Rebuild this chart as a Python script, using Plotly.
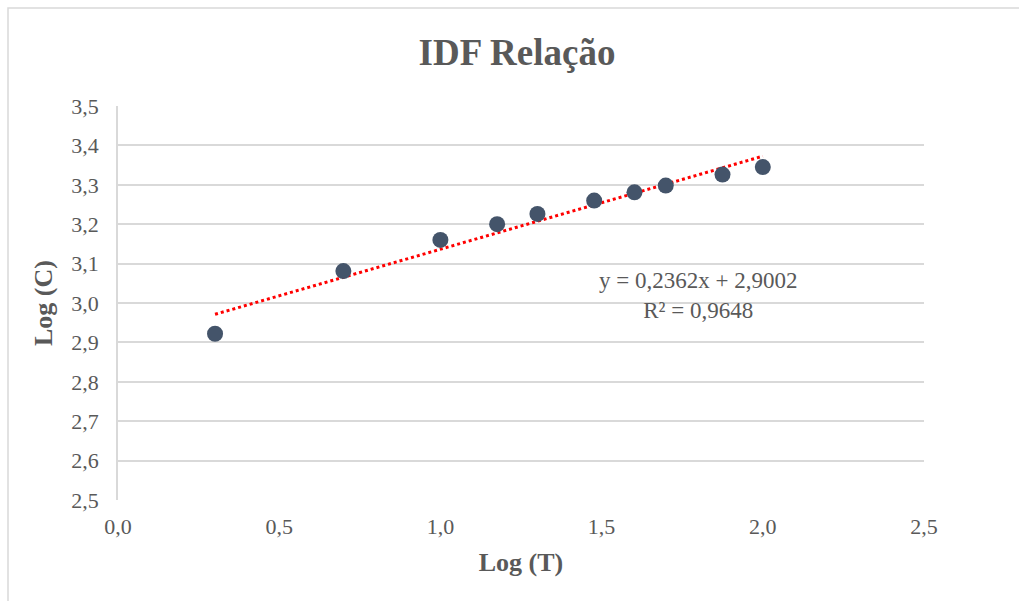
import numpy as np
import plotly.graph_objects as go

# Return periods (years) and their log10 values
log_t = [0.301, 0.699, 1.000, 1.176, 1.301, 1.477, 1.602, 1.699, 1.875, 2.000]
log_c = [2.922, 3.081, 3.160, 3.200, 3.226, 3.260, 3.281, 3.298, 3.326, 3.345]

# Linear trendline coefficients
slope = 0.2362
intercept = 2.9002
r2 = 0.9648

x_ticks = [0.0, 0.5, 1.0, 1.5, 2.0, 2.5]
y_ticks = [2.5, 2.6, 2.7, 2.8, 2.9, 3.0, 3.1, 3.2, 3.3, 3.4, 3.5]

GREY = "#595959"
GRID = "#D9D9D9"
FONT = "Liberation Serif, Times New Roman, serif"

trend_x = np.array([min(log_t), max(log_t)])
trend_y = slope * trend_x + intercept

fig = go.Figure()
fig.add_trace(go.Scatter(
    x=trend_x, y=trend_y, mode="lines",
    line=dict(color="#FF0000", width=3, dash="dot"),
    hoverinfo="skip", showlegend=False,
))
fig.add_trace(go.Scatter(
    x=log_t, y=log_c, mode="markers",
    marker=dict(color="#44546A", size=16, line=dict(width=0)),
    showlegend=False,
))

fmt = lambda v: f"{v:.4f}".replace(".", ",")
fig.add_annotation(
    x=1.800, y=3.020, xref="x", yref="y",
    text=f"y = {fmt(slope)}x + {fmt(intercept)}<br>R² = {fmt(r2)}",
    showarrow=False, align="center",
    font=dict(family=FONT, size=23, color=GREY),
)

fig.update_layout(
    width=1019, height=601,
    margin=dict(l=118, r=95, t=106, b=101),
    paper_bgcolor="white", plot_bgcolor="white",
    separators=",.",
    title=dict(
        text="<b>IDF Relação</b>", x=517 / 1019, xanchor="center",
        y=1 - 52 / 601, yanchor="middle",
        font=dict(family=FONT, size=37, color=GREY),
    ),
    xaxis=dict(
        range=[0, 2.5], tickvals=x_ticks, tickformat=".1f",
        showgrid=False, zeroline=False,
        showline=False, ticks="", ticklabelstandoff=11,
        tickfont=dict(family=FONT, size=22, color=GREY),
        title=dict(text="<b>Log (T)</b>", standoff=14,
                   font=dict(family=FONT, size=26, color=GREY)),
    ),
    yaxis=dict(
        range=[2.5, 3.5], tickvals=y_ticks, tickformat=".1f",
        showgrid=True, gridcolor=GRID, gridwidth=1.5,
        zeroline=False, showline=True, linecolor=GRID, linewidth=1.5,
        ticks="", ticklabelstandoff=13,
        tickfont=dict(family=FONT, size=22, color=GREY),
        title=dict(text="<b>Log (C)</b>", standoff=11,
                   font=dict(family=FONT, size=26, color=GREY)),
    ),
    shapes=[dict(
        type="rect", xref="paper", yref="paper",
        x0=(8 - 118) / 806, x1=1.3, y0=-0.4, y1=(500 - 8) / 394,
        line=dict(color=GRID, width=1.5), fillcolor="rgba(0,0,0,0)",
        layer="below",
    )],
)

fig.write_html("out.html")
